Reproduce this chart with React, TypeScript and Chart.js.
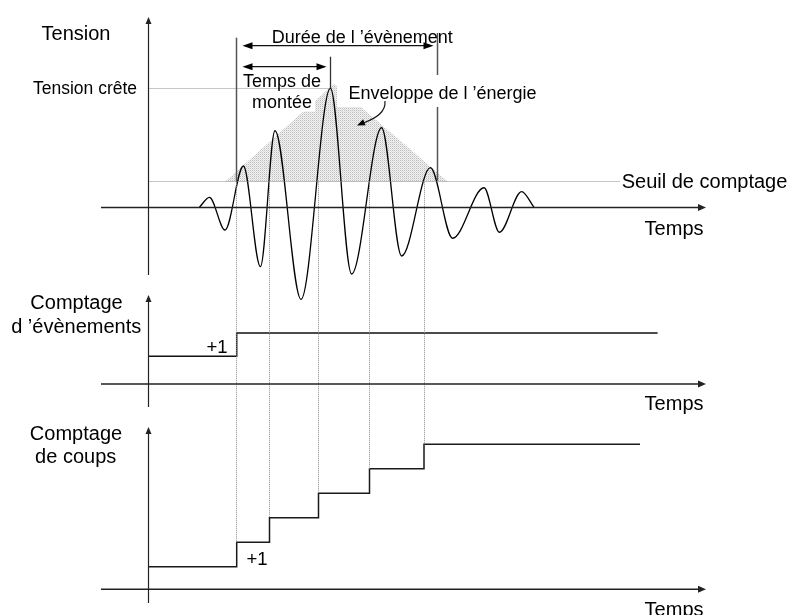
import React, { useEffect, useRef } from 'react';
import { Chart, registerables } from 'chart.js';

Chart.register(...registerables);

// ---------- data (time in µs, tension in mV, counts) ----------
const waveTimes = [25.7, 30.7, 38.5, 47.7, 56.2, 63.5, 76.5, 91.2, 101.8, 116.8, 126.8, 141.2, 152.3, 168, 175.7, 186.8, 193];
const waveTension = [0, 8.3, -18.9, 34.4, -49.5, 63.8, -76.7, 99.2, -55.6, 66.3, -40.6, 33, -25.8, 16.3, -20.8, 13, 0];
const envelopeTimes = [38.5, 93, 150];
const envelopeTension = [21.3, 102.8, 21.3];
const thresholdTension = 21.3;
const peakTension = 99.2;
const peakTime = 91.2;
const hitTimes = [44.35, 60.75, 85.25, 110.75, 138];
const hitCounts = [1, 2, 3, 4, 5];
const eventTimes = [44.35];
const eventCounts = [1];
const eventEndTime = 144.75;
const recordEndTimes = [254.8, 246];

const txt = {
  tension: 'Tension',
  crete: 'Tension crête',
  duree: 'Durée de l ’évènement',
  montee1: 'Temps de',
  montee2: 'montée',
  enveloppe: 'Enveloppe de l ’énergie',
  seuil: 'Seuil de comptage',
  temps: 'Temps',
  comptage: 'Comptage',
  evenements: 'd ’évènements',
  coups: 'de coups',
  plusUn: '+1',
};

const FONT = '"Liberation Sans", Arial, Helvetica, sans-serif';
const ENVELOPE_LABEL = 'enveloppe';

function crisp(v: number) {
  return Math.round(v - 0.5) + 0.5;
}

const diagramPlugin = {
  id: 'diagram',
  afterDatasetDraw(chart: any, args: any) {
    if (args.meta.label !== ENVELOPE_LABEL) return;
    const c = chart.ctx;
    c.save();
    c.fillStyle = '#ffffff';
    c.fillRect(337, 75, 209, 32);
    c.fillRect(250, 90, 65, 21.5);
    c.restore();
  },
  afterDatasetsDraw(chart: any) {
    const c: CanvasRenderingContext2D = chart.ctx;
    const sx = chart.scales.x;
    const X = (v: number) => sx.getPixelForValue(v);
    const YT = (v: number) => chart.scales.yT.getPixelForValue(v);
    const YC = (v: number) => chart.scales.yC.getPixelForValue(v);

    const line = (x1: number, y1: number, x2: number, y2: number, color: string, w: number, dash: number[] = []) => {
      c.save();
      c.strokeStyle = color;
      c.lineWidth = w;
      c.setLineDash(dash);
      c.beginPath();
      c.moveTo(x1, y1);
      c.lineTo(x2, y2);
      c.stroke();
      c.restore();
    };
    const head = (tx: number, ty: number, dx: number, dy: number, len: number, half: number, color = '#000') => {
      const n = Math.hypot(dx, dy);
      const ux = dx / n, uy = dy / n;
      const bx = tx - ux * len, by = ty - uy * len;
      c.save();
      c.fillStyle = color;
      c.beginPath();
      c.moveTo(tx, ty);
      c.lineTo(bx - uy * half, by + ux * half);
      c.lineTo(bx + uy * half, by - ux * half);
      c.closePath();
      c.fill();
      c.restore();
    };
    const text = (s: string, x: number, y: number, size: number, align: CanvasTextAlign) => {
      c.save();
      c.fillStyle = '#000';
      c.font = `${size}px ${FONT}`;
      c.textAlign = align;
      c.textBaseline = 'alphabetic';
      c.fillText(s, x, y);
      c.restore();
    };

    const x0 = crisp(X(0));
    const thrY = YT(thresholdTension);

    // dotted reference lines
    line(x0, crisp(YT(peakTension)), X(peakTime), crisp(YT(peakTension)), '#8c8c8c', 1, [1, 1]);
    line(x0, crisp(thrY), 620, crisp(thrY), '#8c8c8c', 1, [1, 1]);
    hitTimes.forEach((t, i) => {
      const xx = crisp(X(t));
      line(xx, thrY, xx, YC(hitCounts[i]), '#8c8c8c', 1, [1, 1]);
    });

    // axes
    const axisCol = '#222';
    [[17, 275], [295, 407], [427, 603]].forEach(([top, bot]) => {
      line(x0, top + 5, x0, bot, axisCol, 1.2);
      head(x0, top, 0, -1, 7, 3, axisCol);
    });
    [crisp(YT(0)), 384, 589.3].forEach((yy) => {
      line(101, yy, 700, yy, axisCol, 1.5);
      head(706, yy, 1, 0, 8, 3.5, axisCol);
    });

    // event lines
    const xs = crisp(X(eventTimes[0]));
    const xe = crisp(X(eventEndTime));
    const xp = crisp(X(peakTime));
    line(xs, 37.7, xs, thrY, '#555', 1.5);
    line(xe, 33, xe, 75, '#555', 1.5);
    line(xe, 107, xe, thrY - 1, '#555', 1.5);
    line(xp, 56.7, xp, YT(peakTension), '#333', 1.3);

    // Durée arrow
    const yD = 45.7;
    line(xs + 12, yD, xe - 10, yD, '#111', 1.2);
    head(xs + 6, yD, -1, 0, 10, 3.5);
    head(xe - 4, yD, 1, 0, 10, 3.5);
    // rise time arrow
    const yR = 66.7;
    line(xs + 12, yR, xp - 10, yR, '#111', 1.2);
    head(xs + 6, yR, -1, 0, 10, 3.5);
    head(xp - 4, yR, 1, 0, 10, 3.5);

    // curved pointer from envelope label
    c.save();
    c.strokeStyle = '#111';
    c.lineWidth = 1.2;
    c.beginPath();
    c.moveTo(385, 101);
    c.bezierCurveTo(386, 112, 376, 118, 364, 122.8);
    c.stroke();
    c.restore();
    head(357, 125.5, -16, 7, 8, 3.2);

    // texts
    text(txt.tension, 76, 40, 20, 'center');
    text(txt.crete, 85, 94.3, 17.5, 'center');
    text(txt.duree, 271.7, 43.3, 18, 'left');
    text(txt.montee1, 282, 87, 18, 'center');
    text(txt.montee2, 282, 108, 18, 'center');
    text(txt.enveloppe, 442.5, 99, 18, 'center');
    text(txt.seuil, 621.7, 188.3, 20, 'left');
    text(txt.temps, 703.5, 235, 20, 'right');
    text(txt.comptage, 76.5, 309.3, 20, 'center');
    text(txt.evenements, 76.2, 333.3, 20, 'center');
    text(txt.plusUn, 217, 353, 18.5, 'center');
    text(txt.temps, 703.5, 410, 20, 'right');
    text(txt.comptage, 76, 440, 20, 'center');
    text(txt.coups, 75.7, 463.3, 20, 'center');
    text(txt.plusUn, 257, 564.5, 18.5, 'center');
    text(txt.temps, 703.5, 616, 20, 'right');
  },
};

export default function App() {
  const ref = useRef<HTMLCanvasElement>(null);

  useEffect(() => {
    const canvas = ref.current;
    if (!canvas) return;
    const ctx = canvas.getContext('2d')!;

    const pc = document.createElement('canvas');
    pc.width = 2;
    pc.height = 2;
    const p = pc.getContext('2d')!;
    p.fillStyle = '#f2f2f2';
    p.fillRect(0, 0, 2, 2);
    p.fillStyle = '#bcbcbc';
    p.fillRect(0, 0, 1, 1);
    p.fillStyle = '#dcdcdc';
    p.fillRect(1, 1, 1, 1);
    const pattern = ctx.createPattern(pc, 'repeat') || '#dcdcdc';

    const wave = waveTimes.map((t, i) => ({ x: t, y: waveTension[i] }));
    const env = envelopeTimes.map((t, i) => ({ x: t, y: envelopeTension[i] }));
    const eventSteps = [{ x: 0, y: 0 }, ...eventTimes.map((t, i) => ({ x: t, y: eventCounts[i] })), { x: recordEndTimes[0], y: eventCounts[eventCounts.length - 1] }];
    const hitSteps = [{ x: 0, y: 0 }, ...hitTimes.map((t, i) => ({ x: t, y: hitCounts[i] })), { x: recordEndTimes[1], y: hitCounts[hitCounts.length - 1] }];

    const chart = new Chart(canvas, {
      type: 'line',
      data: {
        datasets: [
          {
            label: ENVELOPE_LABEL,
            data: env,
            yAxisID: 'yT',
            borderWidth: 0,
            borderColor: 'rgba(0,0,0,0)',
            backgroundColor: pattern as any,
            fill: { value: thresholdTension },
            pointRadius: 0,
            tension: 0,
            order: 10,
          },
          {
            label: 'tension',
            data: wave,
            yAxisID: 'yT',
            borderColor: '#000',
            borderWidth: 1.3,
            pointRadius: 0,
            cubicInterpolationMode: 'monotone',
            fill: false,
            order: 0,
          },
          {
            label: 'evenements',
            data: eventSteps,
            yAxisID: 'yE',
            borderColor: '#111',
            borderWidth: 1.5,
            pointRadius: 0,
            stepped: 'before',
            fill: false,
            order: 0,
          },
          {
            label: 'coups',
            data: hitSteps,
            yAxisID: 'yC',
            borderColor: '#1a1a1a',
            borderWidth: 1.5,
            pointRadius: 0,
            stepped: 'before',
            fill: false,
            order: 0,
          },
        ],
      },
      options: {
        responsive: false,
        animation: false,
        devicePixelRatio: 1,
        layout: { padding: 0 },
        plugins: { legend: { display: false }, tooltip: { enabled: false } },
        events: [],
        scales: {
          x: { type: 'linear', display: false, min: -74, max: 322, bounds: 'data' },
          yT: { type: 'linear', display: false, min: -339.75, max: 172.75, bounds: 'data' },
          yE: { type: 'linear', display: false, min: -11.103, max: 15.292, bounds: 'data' },
          yC: { type: 'linear', display: false, min: -1.971, max: 23.131, bounds: 'data' },
        },
      } as any,
      plugins: [diagramPlugin],
    });

    return () => chart.destroy();
  }, []);

  return (
    <div style={{ position: 'absolute', left: 0, top: 0, width: 792, height: 615, background: '#fff' }}>
      <canvas ref={ref} width={792} height={615} />
    </div>
  );
}
